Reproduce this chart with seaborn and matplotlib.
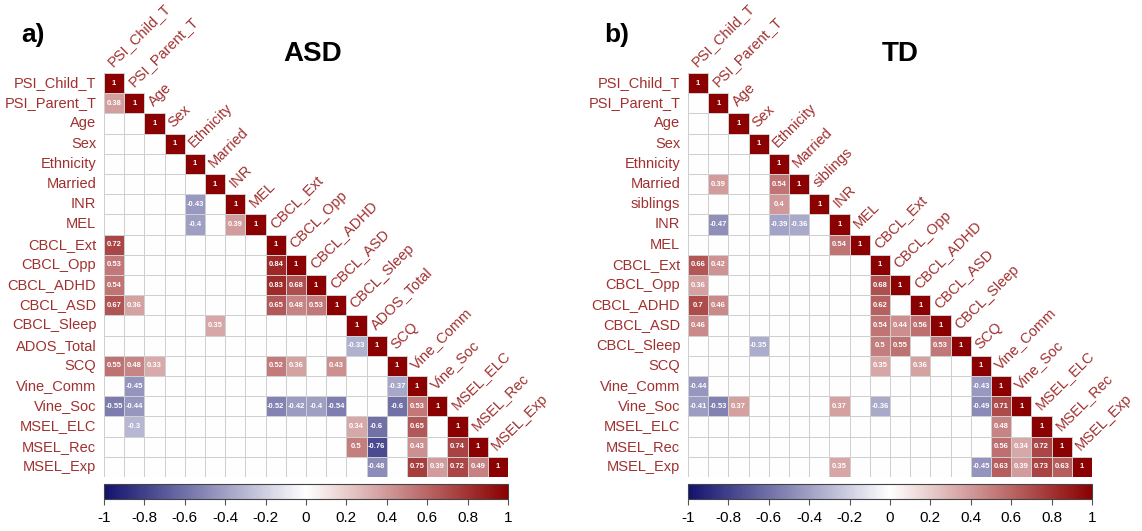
import numpy as np
import pandas as pd
import matplotlib
matplotlib.use("Agg")
import matplotlib.pyplot as plt
import seaborn as sns
from matplotlib.colors import LinearSegmentedColormap, to_rgba

# variables per group
asd_vars = ['PSI_Child_T', 'PSI_Parent_T', 'Age', 'Sex', 'Ethnicity', 'Married', 'INR', 'MEL',
            'CBCL_Ext', 'CBCL_Opp', 'CBCL_ADHD', 'CBCL_ASD', 'CBCL_Sleep', 'ADOS_Total', 'SCQ',
            'Vine_Comm', 'Vine_Soc', 'MSEL_ELC', 'MSEL_Rec', 'MSEL_Exp']
td_vars = ['PSI_Child_T', 'PSI_Parent_T', 'Age', 'Sex', 'Ethnicity', 'Married', 'siblings', 'INR', 'MEL',
           'CBCL_Ext', 'CBCL_Opp', 'CBCL_ADHD', 'CBCL_ASD', 'CBCL_Sleep', 'SCQ',
           'Vine_Comm', 'Vine_Soc', 'MSEL_ELC', 'MSEL_Rec', 'MSEL_Exp']

# significant correlations (row, column, r); everything else is blank
asd_pairs = [
    ('PSI_Parent_T', 'PSI_Child_T', 0.38),
    ('INR', 'Ethnicity', -0.43),
    ('MEL', 'Ethnicity', -0.4), ('MEL', 'INR', 0.39),
    ('CBCL_Ext', 'PSI_Child_T', 0.72),
    ('CBCL_Opp', 'PSI_Child_T', 0.53), ('CBCL_Opp', 'CBCL_Ext', 0.84),
    ('CBCL_ADHD', 'PSI_Child_T', 0.54), ('CBCL_ADHD', 'CBCL_Ext', 0.83), ('CBCL_ADHD', 'CBCL_Opp', 0.68),
    ('CBCL_ASD', 'PSI_Child_T', 0.67), ('CBCL_ASD', 'PSI_Parent_T', 0.36), ('CBCL_ASD', 'CBCL_Ext', 0.65),
    ('CBCL_ASD', 'CBCL_Opp', 0.48), ('CBCL_ASD', 'CBCL_ADHD', 0.53),
    ('CBCL_Sleep', 'Married', 0.35),
    ('ADOS_Total', 'CBCL_Sleep', -0.33),
    ('SCQ', 'PSI_Child_T', 0.55), ('SCQ', 'PSI_Parent_T', 0.48), ('SCQ', 'Age', 0.33),
    ('SCQ', 'CBCL_Ext', 0.52), ('SCQ', 'CBCL_Opp', 0.36), ('SCQ', 'CBCL_ASD', 0.43),
    ('Vine_Comm', 'PSI_Parent_T', -0.45), ('Vine_Comm', 'SCQ', -0.37),
    ('Vine_Soc', 'PSI_Child_T', -0.55), ('Vine_Soc', 'PSI_Parent_T', -0.44), ('Vine_Soc', 'CBCL_Ext', -0.52),
    ('Vine_Soc', 'CBCL_Opp', -0.42), ('Vine_Soc', 'CBCL_ADHD', -0.4), ('Vine_Soc', 'CBCL_ASD', -0.54),
    ('Vine_Soc', 'SCQ', -0.6), ('Vine_Soc', 'Vine_Comm', 0.53),
    ('MSEL_ELC', 'PSI_Parent_T', -0.3), ('MSEL_ELC', 'CBCL_Sleep', 0.34), ('MSEL_ELC', 'ADOS_Total', -0.6),
    ('MSEL_ELC', 'Vine_Comm', 0.65),
    ('MSEL_Rec', 'CBCL_Sleep', 0.5), ('MSEL_Rec', 'ADOS_Total', -0.76), ('MSEL_Rec', 'Vine_Comm', 0.43),
    ('MSEL_Rec', 'MSEL_ELC', 0.74),
    ('MSEL_Exp', 'ADOS_Total', -0.48), ('MSEL_Exp', 'Vine_Comm', 0.75), ('MSEL_Exp', 'Vine_Soc', 0.39),
    ('MSEL_Exp', 'MSEL_ELC', 0.72), ('MSEL_Exp', 'MSEL_Rec', 0.49),
]
td_pairs = [
    ('Married', 'PSI_Parent_T', 0.39), ('Married', 'Ethnicity', 0.54),
    ('siblings', 'Ethnicity', 0.4),
    ('INR', 'PSI_Parent_T', -0.47), ('INR', 'Ethnicity', -0.39), ('INR', 'Married', -0.36),
    ('MEL', 'INR', 0.54),
    ('CBCL_Ext', 'PSI_Child_T', 0.66), ('CBCL_Ext', 'PSI_Parent_T', 0.42),
    ('CBCL_Opp', 'PSI_Child_T', 0.36), ('CBCL_Opp', 'CBCL_Ext', 0.68),
    ('CBCL_ADHD', 'PSI_Child_T', 0.7), ('CBCL_ADHD', 'PSI_Parent_T', 0.46), ('CBCL_ADHD', 'CBCL_Ext', 0.62),
    ('CBCL_ASD', 'PSI_Child_T', 0.46), ('CBCL_ASD', 'CBCL_Ext', 0.54), ('CBCL_ASD', 'CBCL_Opp', 0.44),
    ('CBCL_ASD', 'CBCL_ADHD', 0.56),
    ('CBCL_Sleep', 'Sex', -0.35), ('CBCL_Sleep', 'CBCL_Ext', 0.5), ('CBCL_Sleep', 'CBCL_Opp', 0.55),
    ('CBCL_Sleep', 'CBCL_ASD', 0.53),
    ('SCQ', 'CBCL_Ext', 0.35), ('SCQ', 'CBCL_ADHD', 0.36),
    ('Vine_Comm', 'PSI_Child_T', -0.44), ('Vine_Comm', 'SCQ', -0.43),
    ('Vine_Soc', 'PSI_Child_T', -0.41), ('Vine_Soc', 'PSI_Parent_T', -0.53), ('Vine_Soc', 'Age', 0.37),
    ('Vine_Soc', 'INR', 0.37), ('Vine_Soc', 'CBCL_Ext', -0.36), ('Vine_Soc', 'SCQ', -0.49),
    ('Vine_Soc', 'Vine_Comm', 0.71),
    ('MSEL_ELC', 'Vine_Comm', 0.48),
    ('MSEL_Rec', 'Vine_Comm', 0.56), ('MSEL_Rec', 'Vine_Soc', 0.34), ('MSEL_Rec', 'MSEL_ELC', 0.72),
    ('MSEL_Exp', 'INR', 0.35), ('MSEL_Exp', 'SCQ', -0.45), ('MSEL_Exp', 'Vine_Comm', 0.63),
    ('MSEL_Exp', 'Vine_Soc', 0.39), ('MSEL_Exp', 'MSEL_ELC', 0.73), ('MSEL_Exp', 'MSEL_Rec', 0.63),
]

cbar_ticks = [-1, -0.8, -0.6, -0.4, -0.2, 0, 0.2, 0.4, 0.6, 0.8, 1]
cbar_labels = ['-1', '-0.8', '-0.6', '-0.4', '-0.2', '0', '0.2', '0.4', '0.6', '0.8', '1']

sns.set_style('white')
plt.rcParams['font.family'] = ['Liberation Sans', 'DejaVu Sans']
plt.rcParams['text.color'] = 'black'
plt.rcParams['xtick.color'] = 'black'

LABEL_COL = '#a0302f'
GRID_COL = '#cfcfcf'
cmap = LinearSegmentedColormap.from_list('blrd', ['#12126e', '#ffffff', '#8b0000'])

W, H = 1142, 531


def build_matrix(variables, pairs):
    mat = pd.DataFrame(0.0, index=variables, columns=variables)
    labels = pd.DataFrame('', index=variables, columns=variables)
    for v in variables:
        mat.loc[v, v] = 1.0
        labels.loc[v, v] = '1'
    for r, c, val in pairs:
        mat.loc[r, c] = val
        labels.loc[r, c] = f'{val:g}'
    return mat, labels


def draw_panel(fig, left, variables, pairs, title, title_x, tag, tag_x):
    mat, labels = build_matrix(variables, pairs)
    mask = np.triu(np.ones(mat.shape, dtype=bool), k=1)

    ax = fig.add_axes([left / W, 1 - 477 / H, 404 / W, 404 / H])
    cax = fig.add_axes([left / W, 1 - 499 / H, 404 / W, 15 / H])
    sns.heatmap(mat, mask=mask, cmap=cmap, vmin=-1, vmax=1,
                annot=labels, fmt='',
                annot_kws=dict(fontsize=5.5, color='white', fontweight='bold'),
                linewidths=0.7, linecolor=GRID_COL,
                xticklabels=False, yticklabels=variables,
                cbar_ax=cax, cbar_kws=dict(orientation='horizontal', ticks=cbar_ticks),
                ax=ax)

    # hide cell borders in the masked upper triangle
    mesh = ax.collections[0]
    edges = np.array([to_rgba(GRID_COL)] * mask.size)
    edges[mask.ravel()] = (0, 0, 0, 0)
    mesh.set_edgecolors(edges)

    ax.set_yticklabels(variables, rotation=0, color=LABEL_COL, fontsize=10.5)
    ax.tick_params(left=False, bottom=False, pad=2)
    ax.set_xlabel('')
    ax.set_ylabel('')

    # column labels along the diagonal
    for j, v in enumerate(variables):
        ax.text(j + 0.45, j - 0.3, v, rotation=45, rotation_mode='anchor',
                ha='left', va='baseline', color=LABEL_COL, fontsize=10.5, clip_on=False)

    cbar = mesh.colorbar
    cbar.outline.set_edgecolor('#444444')
    cbar.outline.set_linewidth(0.8)
    cax.set_xticklabels(cbar_labels, fontsize=11, color='black')
    cax.tick_params(axis='x', bottom=True, length=4, width=0.8, color='#555555', pad=5)

    fig.text(title_x / W, 1 - 54 / H, title, fontsize=20, fontweight='bold', color='black',
             ha='center', va='center')
    fig.text(tag_x / W, 1 - 35 / H, tag, fontsize=19, fontweight='bold', color='black',
             ha='center', va='center')


fig = plt.figure(figsize=(W / 100, H / 100), dpi=100)
draw_panel(fig, 104, asd_vars, asd_pairs, 'ASD', 313, 'a)', 33)
draw_panel(fig, 688, td_vars, td_pairs, 'TD', 900, 'b)', 617)
fig.savefig('out.png', dpi=100, facecolor='white')
